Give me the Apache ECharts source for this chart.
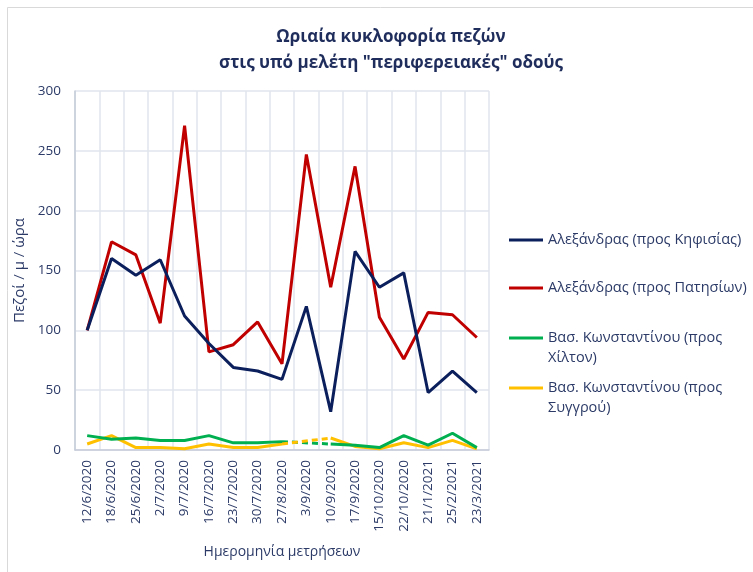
<!DOCTYPE html>
<html>
<head>
<meta charset="utf-8">
<script src="https://cdn.jsdelivr.net/npm/echarts@6/dist/echarts.min.js"></script>
<style>
  html, body { margin: 0; padding: 0; background: #fff; }
  #chart { width: 753px; height: 572px; }
</style>
</head>
<body>
<div id="chart"></div>
<script>
const dates = ['12/6/2020', '18/6/2020', '25/6/2020', '2/7/2020', '9/7/2020', '16/7/2020',
    '23/7/2020', '30/7/2020', '27/8/2020', '3/9/2020', '10/9/2020', '17/9/2020',
    '15/10/2020', '22/10/2020', '21/1/2021', '25/2/2021', '23/3/2021'];

const kifisias = [100, 160, 146, 159, 112, 89, 69, 66, 59, 120, 32, 166, 136, 148, 48, 66, 48];
const patision = [100, 174, 163, 106, 271, 82, 88, 107, 72, 247, 136, 237, 111, 76, 115, 113, 94];
const hilton = [12, 9, 10, 8, 8, 12, 6, 6, 7, null, 5, 4, 2, 12, 4, 14, 2];
const syggrou = [5, 12, 2, 2, 1, 5, 2, 2, 5, null, 10, 3, 1, 6, 2, 8, 1];

const names = ['Αλεξάνδρας (προς Κηφισίας)', 'Αλεξάνδρας (προς Πατησίων)',
    'Βασ. Κωνσταντίνου (προς Χίλτον)', 'Βασ. Κωνσταντίνου (προς Συγγρού)'];
const colors = ['#0b1f5c', '#c00000', '#00b050', '#ffc000'];

// dashed bridge over the missing 3/9 measurement
const bridge = arr => arr.map((v, i) => (i === 8 || i === 10) ? v : null);

const navy = '#2b3a67';
const font = 'Open Sans';

const chart = echarts.init(document.getElementById('chart'));

const legendTops = [230, 278, 328, 378];
const legendLabels = [names[0], names[1], 'Βασ. Κωνσταντίνου (προς\nΧίλτον)', 'Βασ. Κωνσταντίνου (προς\nΣυγγρού)'];
// line at the top of a taller box, so it sits next to the first text line
const topLineIcon = 'path://M0,0L34,0L34,3L0,3Z M0,23L0.01,23L0,22.99Z';

const legends = names.map((n, i) => ({
    orient: 'vertical',
    left: 509,
    top: legendTops[i],
    padding: 0,
    icon: i > 1 ? topLineIcon : 'rect',
    itemWidth: 34,
    itemHeight: i > 1 ? 23 : 3,
    itemGap: 0,
    selectedMode: false,
    data: [n],
    formatter: () => legendLabels[i],
    textStyle: {
        color: navy,
        fontFamily: font,
        fontSize: 14.5,
        lineHeight: 20
    }
}));

const mainSeries = [kifisias, patision, hilton, syggrou].map((d, i) => ({
    name: names[i],
    type: 'line',
    data: d,
    symbol: 'none',
    lineStyle: { width: 3, color: colors[i] },
    itemStyle: { color: colors[i] },
    z: 10 - i
}));

const dashSeries = [hilton, syggrou].map((d, i) => ({
    name: 'bridge' + i,
    type: 'line',
    data: bridge(d),
    connectNulls: true,
    symbol: 'none',
    lineStyle: { width: 3, color: colors[i + 2], type: [6, 4] },
    z: 5
}));

const option = {
    animation: false,
    graphic: [{
        type: 'rect',
        shape: { x: 7.5, y: 7.5, width: 800, height: 600 },
        style: { fill: 'none', stroke: '#d9d9d9', lineWidth: 1 },
        silent: true
    }],
    title: {
        text: 'Ωριαία κυκλοφορία πεζών\nστις υπό μελέτη "περιφερειακές" οδούς',
        left: 386,
        textAlign: 'center',
        top: 19,
        textStyle: {
            color: '#1f2d5c',
            fontFamily: font,
            fontSize: 17,
            fontWeight: 'bold',
            lineHeight: 26
        }
    },
    legend: legends,
    grid: { left: 75, top: 91, right: 264, bottom: 122 },
    xAxis: {
        type: 'category',
        data: dates,
        boundaryGap: true,
        name: 'Ημερομηνία μετρήσεων',
        nameLocation: 'middle',
        nameGap: 95,
        nameTextStyle: { color: navy, fontFamily: font, fontSize: 14 },
        axisLine: { lineStyle: { color: '#c5ccd9', width: 1.5 } },
        axisTick: { show: false },
        splitLine: { show: true, interval: 0, lineStyle: { color: '#e1e5ec', width: 1.5 } },
        axisLabel: {
            interval: 0,
            rotate: 90,
            color: navy,
            fontFamily: font,
            fontSize: 13.5,
            margin: 10
        }
    },
    yAxis: {
        type: 'value',
        min: 0,
        max: 300,
        interval: 50,
        name: 'Πεζοί / μ / ώρα',
        nameLocation: 'middle',
        nameGap: 45,
        nameTextStyle: { color: navy, fontFamily: font, fontSize: 15 },
        axisLine: { show: true, lineStyle: { color: '#c5ccd9', width: 1.5 } },
        axisTick: { show: false },
        splitLine: { lineStyle: { color: '#e1e5ec', width: 1.5 } },
        axisLabel: { color: navy, fontFamily: font, fontSize: 13.5, margin: 14 }
    },
    series: mainSeries.concat(dashSeries)
};

chart.setOption(option);

window.addEventListener('resize', _ => {
    chart.resize();
});
</script>
</body>
</html>
